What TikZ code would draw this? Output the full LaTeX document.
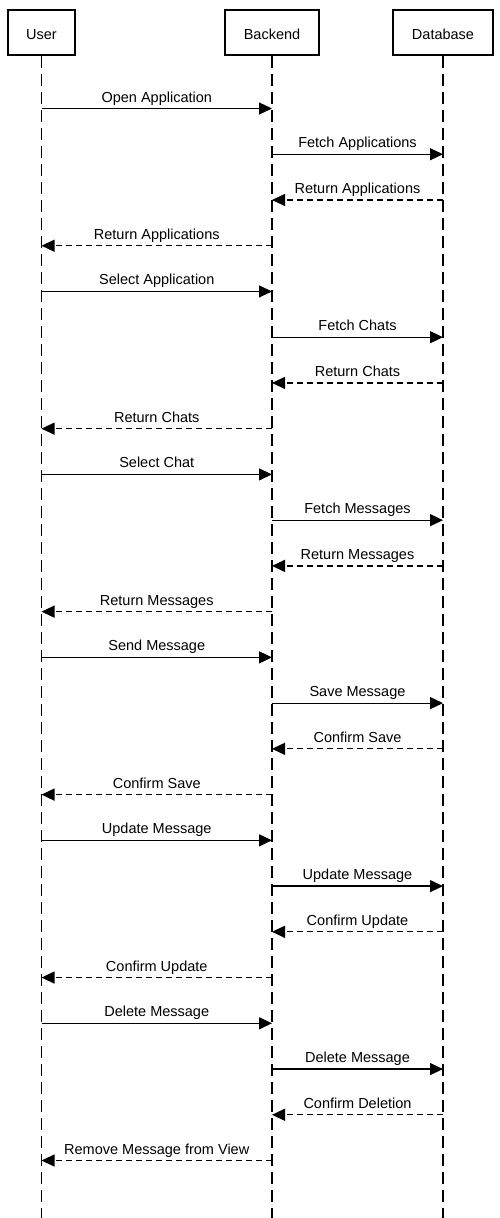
\documentclass[tikz,border=0pt]{standalone}
\usepackage{fontspec}
\setmainfont{Liberation Sans}
\usetikzlibrary{arrows.meta}
\begin{document}
\begin{tikzpicture}[x=1pt,y=-1pt,
  actor/.style={draw,line width=2pt,minimum height=45pt,inner sep=0pt,text height=13pt,text depth=0pt,font=\fontsize{14.5}{17}\selectfont},
  life/.style={line width=1.3pt,dash pattern=on 12pt off 6pt},
  req/.style={line width=1.2pt,-{Triangle[length=13pt,width=12pt]}},
  resp/.style={line width=1.2pt,dash pattern=on 6pt off 4pt,-{Triangle[length=13pt,width=12pt]}},
  lbl/.style={midway,anchor=base,yshift=6.5pt,inner sep=0pt,font=\fontsize{14.5}{17}\selectfont}]
\useasboundingbox (0,0) rectangle (500,1218);
\node[actor,minimum width=67pt] (U) at (41.5,32.5) {User};
\node[actor,minimum width=94pt] (B) at (272,32.5) {Backend};
\node[actor,minimum width=100pt] (D) at (443,32.5) {Database};
\coordinate (Ue) at (41.5,1218);
\coordinate (Be) at (272,1218);
\coordinate (De) at (443,1218);
\draw[life] (U.south) -- (Ue);
\draw[life] (B.south) -- (Be);
\draw[life] (D.south) -- (De);
\foreach \i/\f/\t/\s/\l in {
 1/U/B/req/Open Application,
 2/B/D/req/Fetch Applications,
 3/D/B/resp/Return Applications,
 4/B/U/resp/Return Applications,
 5/U/B/req/Select Application,
 6/B/D/req/Fetch Chats,
 7/D/B/resp/Return Chats,
 8/B/U/resp/Return Chats,
 9/U/B/req/Select Chat,
 10/B/D/req/Fetch Messages,
 11/D/B/resp/Return Messages,
 12/B/U/resp/Return Messages,
 13/U/B/req/Send Message,
 14/B/D/req/Save Message,
 15/D/B/resp/Confirm Save,
 16/B/U/resp/Confirm Save,
 17/U/B/req/Update Message,
 18/B/D/req/Update Message,
 19/D/B/resp/Confirm Update,
 20/B/U/resp/Confirm Update,
 21/U/B/req/Delete Message,
 22/B/D/req/Delete Message,
 23/D/B/resp/Confirm Deletion,
 24/B/U/resp/Remove Message from View}{
  \pgfmathsetmacro\yy{108.5+(\i-1)*45.74}
  \coordinate (m\i) at (0,\yy);
  \draw[\s] (\f |- m\i) -- node[lbl]{\l} (\t |- m\i);
}
\end{tikzpicture}
\end{document}
